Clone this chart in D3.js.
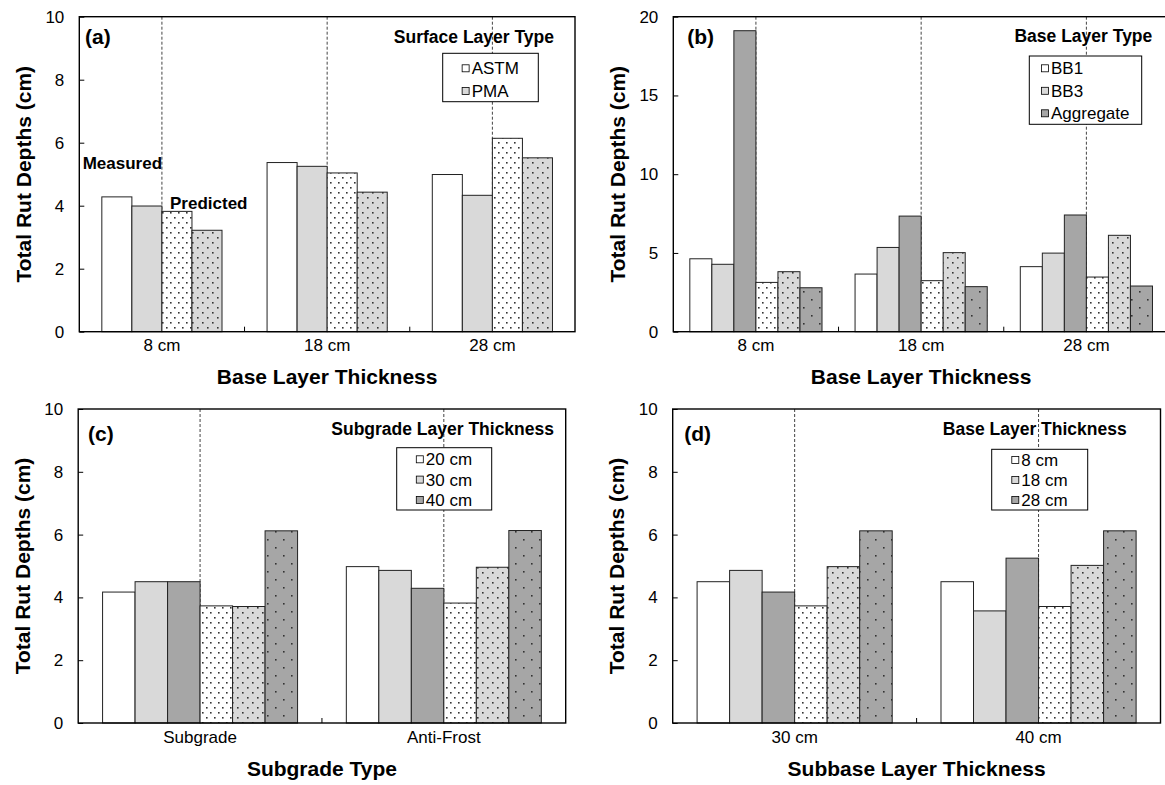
<!DOCTYPE html>
<html>
<head>
<meta charset="utf-8">
<script src="https://cdn.jsdelivr.net/npm/d3@7"></script>
<style>
  html, body { margin: 0; padding: 0; background: #fff; }
  svg { display: block; font-family: "Liberation Sans", Arial, Helvetica, sans-serif; }
</style>
</head>
<body>
<svg id="chart" width="1165" height="785"></svg>
<script>
// ---------- data ----------
const yTicks10 = [0, 2, 4, 6, 8, 10];
const yTicks20 = [0, 5, 10, 15, 20];

// (a) surface layer type, by base layer thickness
const aCategories = ["8 cm", "18 cm", "28 cm"];
const aSeries = ["ASTM", "PMA"];
const aMeasuredASTM = [4.28, 5.37, 4.99];
const aMeasuredPMA = [3.99, 5.25, 4.33];
const aPredictedASTM = [3.82, 5.04, 6.14];
const aPredictedPMA = [3.22, 4.43, 5.52];

// (b) base layer type, by base layer thickness
const bCategories = ["8 cm", "18 cm", "28 cm"];
const bSeries = ["BB1", "BB3", "Aggregate"];
const bMeasuredBB1 = [4.63, 3.66, 4.13];
const bMeasuredBB3 = [4.28, 5.35, 4.99];
const bMeasuredAgg = [19.11, 7.34, 7.41];
const bPredictedBB1 = [3.13, 3.24, 3.47];
const bPredictedBB3 = [3.81, 5.02, 6.12];
const bPredictedAgg = [2.79, 2.86, 2.90];

// (c) subgrade layer thickness, by subgrade type
const cCategories = ["Subgrade", "Anti-Frost"];
const cSeries = ["20 cm", "30 cm", "40 cm"];
const cMeasured20 = [4.17, 4.98];
const cMeasured30 = [4.50, 4.86];
const cMeasured40 = [4.50, 4.29];
const cPredicted20 = [3.73, 3.82];
const cPredicted30 = [3.71, 4.96];
const cPredicted40 = [6.12, 6.13];

// (d) base layer thickness, by subbase layer thickness
const dCategories = ["30 cm", "40 cm"];
const dSeries = ["8 cm", "18 cm", "28 cm"];
const dMeasured8 = [4.50, 4.50];
const dMeasured18 = [4.86, 3.57];
const dMeasured28 = [4.17, 5.25];
const dPredicted8 = [3.73, 3.71];
const dPredicted18 = [4.98, 5.02];
const dPredicted28 = [6.12, 6.12];

// ---------- styles ----------
const WHITE = "#ffffff", LIGHT = "#d9d9d9", DARK = "#a6a6a6";
const FONT_TICK = 17, FONT_TITLE = 21, FONT_HEAD = 17.5, FONT_LETTER = 21;

const svg = d3.select("#chart");
const defs = svg.append("defs");

// dotted fills used for the predicted bars
function dotPattern(id, bg, w, h, pts) {
  const p = defs.append("pattern")
    .attr("id", id)
    .attr("patternUnits", "userSpaceOnUse")
    .attr("width", w).attr("height", h);
  p.append("rect").attr("width", w).attr("height", h).attr("fill", bg);
  pts.forEach(([x, y]) => p.append("rect")
    .attr("x", x).attr("y", y).attr("width", 1.6).attr("height", 1.6)
    .attr("fill", "#333"));
}
dotPattern("dotWhite", WHITE, 8, 10, [[2, 2], [6, 7]]);
dotPattern("dotLight", LIGHT, 10, 10, [[2, 2], [7, 7]]);
dotPattern("dotDark", DARK, 16, 16, [[3, 3], [11, 11]]);
const PRED = { [WHITE]: "url(#dotWhite)", [LIGHT]: "url(#dotLight)", [DARK]: "url(#dotDark)" };

// ---------- panels ----------
const panels = [
  {
    letter: "(a)", letterPos: [85, 36.7],
    x0: 79.3, x1: 575, y0: 16.7, y1: 331.7, max: 10, ticks: yTicks10,
    categories: aCategories, series: aSeries, colors: [WHITE, LIGHT],
    measured: [aMeasuredASTM, aMeasuredPMA],
    predicted: [aPredictedASTM, aPredictedPMA],
    header: "Surface Layer Type", headerPos: [554, 36.7],
    legend: { x: 442.7, y: 53.3, w: 95.6, h: 48.4, first: 15, step: 22.7 },
    xTitle: "Base Layer Thickness",
    notes: [
      { text: "Measured", x: 82.7, y: 162.7 },
      { text: "Predicted", x: 170, y: 203.3 }
    ]
  },
  {
    letter: "(b)", letterPos: [687.3, 36.7],
    x0: 673.3, x1: 1169, y0: 16.7, y1: 331.7, max: 20, ticks: yTicks20,
    categories: bCategories, series: bSeries, colors: [WHITE, LIGHT, DARK],
    measured: [bMeasuredBB1, bMeasuredBB3, bMeasuredAgg],
    predicted: [bPredictedBB1, bPredictedBB3, bPredictedAgg],
    header: "Base Layer Type", headerPos: [1152.3, 35.5],
    legend: { x: 1029.3, y: 56, w: 112.4, h: 68.3, first: 12.3, step: 22.5 },
    xTitle: "Base Layer Thickness",
    notes: []
  },
  {
    letter: "(c)", letterPos: [88, 433.3],
    x0: 78.2, x1: 565.7, y0: 409, y1: 723, max: 10, ticks: yTicks10,
    categories: cCategories, series: cSeries, colors: [WHITE, LIGHT, DARK],
    measured: [cMeasured20, cMeasured30, cMeasured40],
    predicted: [cPredicted20, cPredicted30, cPredicted40],
    header: "Subgrade Layer Thickness", headerPos: [554, 428.3],
    legend: { x: 396.7, y: 447.7, w: 95, h: 62.3, first: 11.6, step: 20.3 },
    xTitle: "Subgrade Type",
    notes: []
  },
  {
    letter: "(d)", letterPos: [684.3, 433.3],
    x0: 672.7, x1: 1160.5, y0: 409, y1: 723, max: 10, ticks: yTicks10,
    categories: dCategories, series: dSeries, colors: [WHITE, LIGHT, DARK],
    measured: [dMeasured8, dMeasured18, dMeasured28],
    predicted: [dPredicted8, dPredicted18, dPredicted28],
    header: "Base Layer Thickness", headerPos: [1126.7, 428.3],
    legend: { x: 991.7, y: 449.3, w: 96, h: 60.7, first: 10.7, step: 20 },
    xTitle: "Subbase Layer Thickness",
    notes: []
  }
];

function drawPanel(p) {
  const g = svg.append("g");
  const x = d3.scaleBand().domain(p.categories).range([p.x0, p.x1]).padding(0);
  const y = d3.scaleLinear().domain([0, p.max]).range([p.y1, p.y0]);

  // measured series first, then predicted series, inside each group
  const bars = [
    ...p.measured.map((v, i) => ({ values: v, fill: p.colors[i] })),
    ...p.predicted.map((v, i) => ({ values: v, fill: PRED[p.colors[i]] }))
  ];
  const inner = d3.scaleBand().domain(d3.range(bars.length))
    .range([0, x.bandwidth()]).paddingInner(0).paddingOuter(0.75);

  // dashed separators between measured and predicted halves
  g.selectAll("line.guide").data(p.categories).join("line")
    .attr("x1", d => x(d) + x.bandwidth() / 2)
    .attr("x2", d => x(d) + x.bandwidth() / 2)
    .attr("y1", p.y0).attr("y2", p.y1)
    .attr("stroke", "#444").attr("stroke-width", 1)
    .attr("stroke-dasharray", "3,2");

  // bars
  bars.forEach((b, i) => {
    g.append("g").selectAll("rect").data(b.values).join("rect")
      .attr("x", (v, j) => x(p.categories[j]) + inner(i))
      .attr("y", v => y(v))
      .attr("width", inner.bandwidth())
      .attr("height", v => y(0) - y(v))
      .attr("fill", b.fill)
      .attr("stroke", "#222").attr("stroke-width", 1);
  });

  // plot frame
  g.append("rect")
    .attr("x", p.x0).attr("y", p.y0)
    .attr("width", p.x1 - p.x0).attr("height", p.y1 - p.y0)
    .attr("fill", "none").attr("stroke", "#000").attr("stroke-width", 1.4);

  // y axis (ticks point inward)
  const ya = g.append("g").attr("transform", `translate(${p.x0},0)`)
    .call(d3.axisLeft(y).tickValues(p.ticks).tickSizeInner(-5).tickSizeOuter(0).tickPadding(15));
  ya.select(".domain").remove();
  ya.selectAll(".tick line").attr("stroke", "#000").attr("stroke-width", 1);
  ya.selectAll(".tick text").attr("font-size", FONT_TICK).attr("fill", "#000")
    .attr("font-family", null);

  // x axis with category labels
  const xa = g.append("g").attr("transform", `translate(0,${p.y1})`)
    .call(d3.axisBottom(x).tickSize(0).tickPadding(7.5));
  xa.select(".domain").remove();
  xa.selectAll(".tick text").attr("font-size", FONT_TICK).attr("fill", "#000")
    .attr("font-family", null);

  // category boundary ticks
  g.selectAll("line.sep").data(p.categories.slice(1)).join("line")
    .attr("x1", d => x(d)).attr("x2", d => x(d))
    .attr("y1", p.y1).attr("y2", p.y1 - 5)
    .attr("stroke", "#000").attr("stroke-width", 1);

  // axis titles
  g.append("text")
    .attr("x", (p.x0 + p.x1) / 2).attr("y", p.y1 + 45).attr("dy", "0.36em")
    .attr("text-anchor", "middle").attr("font-size", FONT_TITLE).attr("font-weight", "bold")
    .text(p.xTitle);
  g.append("text")
    .attr("transform", `translate(${p.x0 - 56},${(p.y0 + p.y1) / 2}) rotate(-90)`)
    .attr("dy", "0.36em")
    .attr("text-anchor", "middle").attr("font-size", FONT_TITLE).attr("font-weight", "bold")
    .text("Total Rut Depths (cm)");

  // panel letter and legend heading
  g.append("text")
    .attr("x", p.letterPos[0]).attr("y", p.letterPos[1]).attr("dy", "0.36em")
    .attr("font-size", FONT_LETTER).attr("font-weight", "bold")
    .text(p.letter);
  g.append("text")
    .attr("x", p.headerPos[0]).attr("y", p.headerPos[1]).attr("dy", "0.36em")
    .attr("text-anchor", "end").attr("font-size", FONT_HEAD).attr("font-weight", "bold")
    .text(p.header);

  // legend
  const L = p.legend;
  const lg = g.append("g");
  lg.append("rect").attr("x", L.x).attr("y", L.y).attr("width", L.w).attr("height", L.h)
    .attr("fill", "#fff").attr("stroke", "#000").attr("stroke-width", 1);
  const rows = lg.selectAll("g.row").data(p.series).join("g");
  const labels = rows.append("text")
    .attr("y", (d, i) => L.y + L.first + i * L.step).attr("dy", "0.36em")
    .attr("font-size", FONT_TICK)
    .text(d => d);
  const sw = 7, gap = 2.5;
  let maxW = 0;
  labels.each(function () { maxW = Math.max(maxW, this.getComputedTextLength()); });
  const sx = L.x + (L.w - (sw + gap + maxW)) / 2;
  labels.attr("x", sx + sw + gap);
  rows.append("rect")
    .attr("x", sx).attr("y", (d, i) => L.y + L.first + i * L.step - sw / 2)
    .attr("width", sw).attr("height", sw)
    .attr("fill", (d, i) => p.colors[i]).attr("stroke", "#000").attr("stroke-width", 0.8);

  // annotations
  p.notes.forEach(n => g.append("text")
    .attr("x", n.x).attr("y", n.y).attr("dy", "0.36em")
    .attr("font-size", 17).attr("font-weight", "bold")
    .text(n.text));
}

panels.forEach(drawPanel);
</script>
</body>
</html>
